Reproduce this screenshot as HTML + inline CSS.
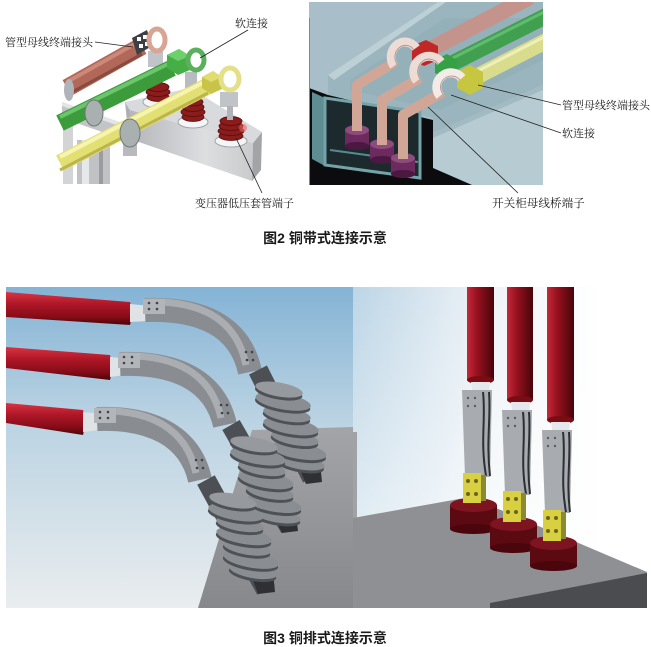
<!DOCTYPE html>
<html><head><meta charset="utf-8"><style>
html,body{margin:0;padding:0;background:#fff;}
svg{display:block;}
.lb{font-family:"Liberation Serif","Noto Serif CJK SC",serif;font-size:11px;fill:#1a1a1a;}
.cap{font-family:"Liberation Sans","Noto Sans CJK SC",sans-serif;font-size:14px;font-weight:bold;fill:#1a1a1a;}
</style></head><body>
<svg width="651" height="647" viewBox="0 0 651 647" xmlns="http://www.w3.org/2000/svg">
<defs>
<linearGradient id="cabH" x1="0" y1="0" x2="0" y2="1"><stop offset="0" stop-color="#d83444"/><stop offset="0.35" stop-color="#b01828"/><stop offset="0.75" stop-color="#860c18"/><stop offset="1" stop-color="#4e0408"/></linearGradient>
<linearGradient id="cabV" x1="0" y1="0" x2="1" y2="0"><stop offset="0" stop-color="#c42a3a"/><stop offset="0.35" stop-color="#9a1220"/><stop offset="1" stop-color="#48040a"/></linearGradient>
<linearGradient id="skyL" x1="0" y1="287" x2="0" y2="608" gradientUnits="userSpaceOnUse"><stop offset="0" stop-color="#84b3d5"/><stop offset="0.4" stop-color="#b9d2e2"/><stop offset="1" stop-color="#eaedef"/></linearGradient>
<linearGradient id="skyR" x1="353" y1="0" x2="600" y2="0" gradientUnits="userSpaceOnUse"><stop offset="0" stop-color="#bcd5e6"/><stop offset="0.55" stop-color="#eef3f7"/><stop offset="1" stop-color="#ffffff"/></linearGradient>
<linearGradient id="skyRv" x1="0" y1="287" x2="0" y2="520" gradientUnits="userSpaceOnUse"><stop offset="0" stop-color="#ffffff" stop-opacity="0"/><stop offset="1" stop-color="#ffffff" stop-opacity="0.55"/></linearGradient>
<linearGradient id="floorL" x1="0" y1="430" x2="0" y2="608" gradientUnits="userSpaceOnUse"><stop offset="0" stop-color="#a2a4a8"/><stop offset="1" stop-color="#86888c"/></linearGradient>
<linearGradient id="bxf" x1="130" y1="0" x2="255" y2="0" gradientUnits="userSpaceOnUse"><stop offset="0" stop-color="#b4b6ba"/><stop offset="0.6" stop-color="#dcdee0"/><stop offset="1" stop-color="#c8cacc"/></linearGradient>
<clipPath id="cTR"><rect x="309" y="2" width="234" height="183"/></clipPath>
<clipPath id="cBL"><rect x="6" y="287" width="347" height="321"/></clipPath>
<clipPath id="cBR"><rect x="353" y="287" width="294" height="321"/></clipPath>
</defs>
<rect width="651" height="647" fill="#fff"/>

<!-- ============ TOP LEFT ============ -->
<g>
 <rect x="63" y="106" width="10" height="78" fill="#d2d4d6"/>
 <polygon points="62,102 128,125 128,141 62,118" fill="#c2c4c8"/>
 <polygon points="62,102 128,125 128,129 62,106" fill="#e2e4e6"/>
 <rect x="77" y="140" width="33" height="44" fill="#c0c2c6"/>
 <rect x="82" y="140" width="7" height="44" fill="#e6e8ea"/>
 <rect x="99" y="140" width="4" height="44" fill="#9a9ca0"/>
 <rect x="123" y="141" width="14" height="15" fill="#b8babe"/>
 <polygon points="125,102 130,110 133,140 128,132" fill="#aeb0b4"/>
 <polygon points="130,110 253,143 252,181 133,140" fill="url(#bxf)"/>
 <polygon points="253,143 262,132 261,170 252,181" fill="#a2a4a8"/>
 <polygon points="125,102 190,88 262,132 253,143 130,110" fill="#d8dadd"/>
 <ellipse cx="158" cy="102" rx="15" ry="6" fill="#f4f5f6" stroke="#a0a4a8" stroke-width="1"/>
 <ellipse cx="193" cy="122" rx="15" ry="6" fill="#f4f5f6" stroke="#a0a4a8" stroke-width="1"/>
 <ellipse cx="231" cy="141" rx="16" ry="6" fill="#f4f5f6" stroke="#a0a4a8" stroke-width="1"/>
 <g fill="#8a1c1c" stroke="#560c0c" stroke-width="0.8">
  <ellipse cx="158" cy="97" rx="11" ry="4.5"/><ellipse cx="158" cy="92" rx="12" ry="4.5"/><ellipse cx="158" cy="87" rx="11" ry="4.5"/>
  <ellipse cx="193" cy="117" rx="11" ry="4.5"/><ellipse cx="193" cy="112" rx="12" ry="4.5"/><ellipse cx="193" cy="107" rx="11" ry="4.5"/><ellipse cx="193" cy="102" rx="10" ry="4"/>
  <ellipse cx="231" cy="136" rx="12" ry="4.5"/><ellipse cx="231" cy="131" rx="13" ry="4.5"/><ellipse cx="231" cy="126" rx="12" ry="4.5"/><ellipse cx="231" cy="121" rx="11" ry="4.5"/>
 </g>
 <circle cx="243" cy="128" r="4" fill="#f06060" opacity="0.6"/>
 <line x1="67" y1="88" x2="142" y2="46" stroke="#b26858" stroke-width="18"/>
 <line x1="67" y1="82" x2="140" y2="41" stroke="#cc8878" stroke-width="4"/>
 <line x1="67" y1="95" x2="142" y2="54" stroke="#8a4a3e" stroke-width="3"/>
 <ellipse cx="69" cy="90" rx="5" ry="11" fill="#b0b4b8"/>
 <polygon points="132,38 147,30 152,46 137,55" fill="#3c4044"/>
 <rect x="137" y="37" width="4" height="4" fill="#fff"/><rect x="143" y="35" width="4" height="4" fill="#fff"/><rect x="139" y="44" width="4" height="4" fill="#fff"/><rect x="145" y="42" width="4" height="4" fill="#fff"/>
 <rect x="148" y="51" width="15" height="16" fill="#c0c4c8"/>
 <ellipse cx="157" cy="40" rx="8" ry="11" fill="none" stroke="#d8a494" stroke-width="5"/>
 <line x1="60" y1="123" x2="172" y2="68" stroke="#3c9c3c" stroke-width="17"/>
 <line x1="60" y1="117" x2="170" y2="63" stroke="#6cc46c" stroke-width="4"/>
 <ellipse cx="94" cy="113" rx="9" ry="13" fill="#a8b0b0" stroke="#707878" stroke-width="1"/>
 <polygon points="167,55 179,49 190,56 190,70 178,75 167,68" fill="#46ae46"/>
 <polygon points="167,55 179,49 190,56 178,61" fill="#6cd06c"/>
 <rect x="185" y="72" width="12" height="16" fill="#b8bcc0"/>
 <ellipse cx="196" cy="60" rx="8" ry="10" fill="none" stroke="#5cb05c" stroke-width="5"/>
 <line x1="60" y1="163" x2="208" y2="86" stroke="#e2e072" stroke-width="17"/>
 <line x1="60" y1="157" x2="206" y2="81" stroke="#f6f4b0" stroke-width="4"/>
 <line x1="60" y1="170" x2="208" y2="93" stroke="#bcb44c" stroke-width="3"/>
 <ellipse cx="130" cy="133" rx="10" ry="14" fill="#a8b0b0" stroke="#707878" stroke-width="1"/>
 <polygon points="202,77 213,71 222,77 222,89 211,94 202,88" fill="#c8c44a"/>
 <polygon points="202,77 213,71 222,77 211,82" fill="#e0dc70"/>
 <rect x="220" y="92" width="18" height="15" fill="#c0c4c8"/>
 <rect x="227" y="106" width="6" height="14" fill="#b0b4b8"/>
 <ellipse cx="230" cy="79" rx="9" ry="11" fill="none" stroke="#e4e08a" stroke-width="5"/>
 <g stroke="#222" stroke-width="0.8">
  <line x1="95" y1="42" x2="133" y2="47"/>
  <line x1="248" y1="30" x2="200" y2="58"/>
  <line x1="236" y1="138" x2="262" y2="193"/>
 </g>
 <text class="lb" x="5" y="46">管型母线终端接头</text>
 <text class="lb" x="235" y="27">软连接</text>
 <text class="lb" x="195" y="207">变压器低压套管端子</text>
</g>

<!-- ============ TOP RIGHT ============ -->
<g clip-path="url(#cTR)">
 <rect x="309" y="2" width="234" height="183" fill="#a8bfc9"/>
 <polygon points="328,75 438,2 543,2 543,85 433,133 433,118 328,95" fill="#9bb5be"/>
 <polygon points="328,75 438,2 446,2 334,80" fill="#bcd0d6"/>
 <polygon points="350,80 445,18 543,18 543,60 440,110 350,90" fill="#94b0b8"/>
 <polygon points="433,133 543,85 543,185 472,185 433,168" fill="#b7cbd3"/>
 <polygon points="433,133 543,85 543,90 433,138" fill="#a2bac2"/>
 <polygon points="309,88 328,95 433,120 433,168 472,185 309,185" fill="#0c0c0e"/>
 <polygon points="312,92 325,98 325,166 312,159" fill="#5e8e92"/>
 <polygon points="325,98 420,112 420,178 325,165" fill="#1c2a2e" stroke="#74a4a8" stroke-width="3"/>
 <line x1="330" y1="150" x2="418" y2="162" stroke="#5a8a8e" stroke-width="2"/>
 <line x1="425" y1="52" x2="530" y2="-3" stroke="#c4948c" stroke-width="16"/>
 <line x1="447" y1="66" x2="552" y2="13" stroke="#40a050" stroke-width="16"/>
 <line x1="447" y1="61" x2="552" y2="8" stroke="#60bc6c" stroke-width="3"/>
 <line x1="470" y1="80" x2="552" y2="38" stroke="#d8dc8c" stroke-width="16"/>
 <line x1="470" y1="75" x2="552" y2="33" stroke="#eef0b8" stroke-width="3"/>
 <polygon points="412,46 426,40 438,46 438,60 424,66 412,60" fill="#c02828"/>
 <polygon points="435,60 447,54 457,60 457,74 445,79 435,73" fill="#36a046"/>
 <polygon points="457,72 470,65 483,72 483,88 470,95 457,88" fill="#c6c640"/>
 <g fill="none" stroke="#d2a696" stroke-width="10" stroke-linejoin="round">
  <path d="M395,62 L357,85 L357,132"/>
  <path d="M420,78 L382,100 L382,146"/>
  <path d="M443,92 L403,115 L403,162"/>
 </g>
 <g fill="none" stroke-width="9">
  <path d="M394,66 A12,13 0 0 1 416,48" stroke="#eddcd6"/>
  <path d="M417,81 A13,13 0 0 1 441,62" stroke="#eddcd6"/>
  <path d="M440,96 A12,12 0 0 1 462,78" stroke="#f2ebe8"/>
 </g>
 <g fill="none" stroke="#b48a80" stroke-width="0.8">
  <path d="M397,64 A10,11 0 0 1 414,50"/><path d="M420,79 A10,11 0 0 1 438,64"/><path d="M443,94 A10,10 0 0 1 460,80"/>
 </g>
 <g>
  <rect x="345" y="130" width="24" height="16" fill="#6c2a5e"/><ellipse cx="357" cy="146" rx="12" ry="4" fill="#4a1840"/><ellipse cx="357" cy="130" rx="12" ry="5" fill="#8c4c7c"/><rect x="352" y="122" width="10" height="9" fill="#d2a696"/>
  <rect x="370" y="144" width="24" height="16" fill="#6c2a5e"/><ellipse cx="382" cy="160" rx="12" ry="4" fill="#4a1840"/><ellipse cx="382" cy="144" rx="12" ry="5" fill="#8c4c7c"/><rect x="377" y="136" width="10" height="9" fill="#d2a696"/>
  <rect x="391" y="158" width="24" height="16" fill="#6c2a5e"/><ellipse cx="403" cy="174" rx="12" ry="4" fill="#4a1840"/><ellipse cx="403" cy="158" rx="12" ry="5" fill="#8c4c7c"/><rect x="398" y="150" width="10" height="9" fill="#d2a696"/>
 </g>
</g>
<line x1="309.5" y1="18" x2="309.5" y2="185" stroke="#7c8a90" stroke-width="1"/>
<g stroke="#222" stroke-width="0.8">
 <line x1="478" y1="85" x2="561" y2="105"/>
 <line x1="451" y1="95" x2="561" y2="133"/>
 <line x1="428" y1="107" x2="518" y2="193"/>
</g>
<text class="lb" x="562" y="109">管型母线终端接头</text>
<text class="lb" x="562" y="137">软连接</text>
<text class="lb" x="492" y="207" style="font-size:11.6px">开关柜母线桥端子</text>

<text class="cap" x="325" y="243" text-anchor="middle">图2 铜带式连接示意</text>

<!-- ============ BOTTOM LEFT ============ -->
<g clip-path="url(#cBL)">
 <rect x="6" y="287" width="347" height="321" fill="url(#skyL)"/>
 <polygon points="198,608 252,430 353,427 353,608" fill="url(#floorL)"/>
 <!-- cable 1 -->
 <polygon points="6,292 130,302 133,313 130,325 6,317" fill="url(#cabH)"/>
 <polygon points="130,304 150,306 166,310 166,320 130,322" fill="#dfe3e6"/>
 <path d="M145,310 C200,308 240,325 250,372" fill="none" stroke="#898d92" stroke-width="24"/>
 <path d="M145,302 C198,300 236,317 246,365" fill="none" stroke="#aaaeb2" stroke-width="7"/>
 <rect x="143" y="299" width="22" height="15" fill="#b2b6ba"/>
 <g fill="#404448"><circle cx="149" cy="303" r="1.3"/><circle cx="157" cy="303" r="1.3"/><circle cx="149" cy="309" r="1.3"/><circle cx="157" cy="309" r="1.3"/><circle cx="246" cy="352" r="1.3"/><circle cx="252" cy="352" r="1.3"/><circle cx="247" cy="360" r="1.3"/><circle cx="253" cy="360" r="1.3"/></g>
 <line x1="258" y1="370" x2="312" y2="478" stroke="#4c5054" stroke-width="20"/>
 <polygon points="297,462 320,462 322,482 306,484" fill="#2e3034"/>
 <g transform="rotate(10 290 426)">
  <ellipse cx="307" cy="463" rx="24" ry="7" fill="#4e5256"/><ellipse cx="307" cy="460" rx="24" ry="7" fill="#8a8e93"/>
  <ellipse cx="303" cy="452" rx="28" ry="8" fill="#4e5256"/><ellipse cx="303" cy="449" rx="28" ry="8" fill="#8a8e93"/>
  <ellipse cx="297" cy="440" rx="24" ry="7" fill="#4e5256"/><ellipse cx="297" cy="437" rx="24" ry="7" fill="#8a8e93"/>
  <ellipse cx="291" cy="429" rx="28" ry="8" fill="#4e5256"/><ellipse cx="291" cy="426" rx="28" ry="8" fill="#8a8e93"/>
  <ellipse cx="285" cy="418" rx="24" ry="7" fill="#4e5256"/><ellipse cx="285" cy="415" rx="24" ry="7" fill="#8a8e93"/>
  <ellipse cx="279" cy="406" rx="28" ry="8" fill="#4e5256"/><ellipse cx="279" cy="403" rx="28" ry="8" fill="#8a8e93"/>
  <ellipse cx="273" cy="395" rx="24" ry="7" fill="#4e5256"/><ellipse cx="273" cy="392" rx="24" ry="7" fill="#969a9f"/>
 </g>
 <!-- cable 2 -->
 <polygon points="6,347 110,355 113,367 110,380 6,368" fill="url(#cabH)"/>
 <polygon points="110,357 130,359 142,362 142,373 110,377" fill="#dfe3e6"/>
 <path d="M120,364 C175,362 215,380 225,425" fill="none" stroke="#898d92" stroke-width="24"/>
 <path d="M120,356 C173,354 211,372 221,418" fill="none" stroke="#aaaeb2" stroke-width="7"/>
 <rect x="118" y="353" width="22" height="15" fill="#b2b6ba"/>
 <g fill="#404448"><circle cx="124" cy="357" r="1.3"/><circle cx="132" cy="357" r="1.3"/><circle cx="124" cy="363" r="1.3"/><circle cx="132" cy="363" r="1.3"/><circle cx="221" cy="405" r="1.3"/><circle cx="227" cy="405" r="1.3"/><circle cx="222" cy="413" r="1.3"/><circle cx="228" cy="413" r="1.3"/></g>
 <line x1="231" y1="425" x2="290" y2="528" stroke="#4c5054" stroke-width="20"/>
 <polygon points="273,515 296,515 298,531 282,533" fill="#2e3034"/>
 <g transform="rotate(10 266 480)">
  <ellipse cx="283" cy="516" rx="24" ry="7" fill="#4e5256"/><ellipse cx="283" cy="513" rx="24" ry="7" fill="#8a8e93"/>
  <ellipse cx="278" cy="505" rx="28" ry="8" fill="#4e5256"/><ellipse cx="278" cy="502" rx="28" ry="8" fill="#8a8e93"/>
  <ellipse cx="272" cy="494" rx="24" ry="7" fill="#4e5256"/><ellipse cx="272" cy="491" rx="24" ry="7" fill="#8a8e93"/>
  <ellipse cx="266" cy="483" rx="28" ry="8" fill="#4e5256"/><ellipse cx="266" cy="480" rx="28" ry="8" fill="#8a8e93"/>
  <ellipse cx="260" cy="472" rx="24" ry="7" fill="#4e5256"/><ellipse cx="260" cy="469" rx="24" ry="7" fill="#8a8e93"/>
  <ellipse cx="254" cy="461" rx="28" ry="8" fill="#4e5256"/><ellipse cx="254" cy="458" rx="28" ry="8" fill="#8a8e93"/>
  <ellipse cx="248" cy="450" rx="24" ry="7" fill="#4e5256"/><ellipse cx="248" cy="447" rx="24" ry="7" fill="#969a9f"/>
 </g>
 <!-- cable 3 -->
 <polygon points="6,403 83,410 86,422 83,435 6,423" fill="url(#cabH)"/>
 <polygon points="83,412 103,414 117,417 117,428 83,432" fill="#dfe3e6"/>
 <path d="M97,419 C150,417 190,435 200,480" fill="none" stroke="#898d92" stroke-width="24"/>
 <path d="M97,411 C148,409 186,427 196,473" fill="none" stroke="#aaaeb2" stroke-width="7"/>
 <rect x="94" y="408" width="22" height="15" fill="#b2b6ba"/>
 <g fill="#404448"><circle cx="100" cy="412" r="1.3"/><circle cx="108" cy="412" r="1.3"/><circle cx="100" cy="418" r="1.3"/><circle cx="108" cy="418" r="1.3"/><circle cx="196" cy="460" r="1.3"/><circle cx="202" cy="460" r="1.3"/><circle cx="197" cy="468" r="1.3"/><circle cx="203" cy="468" r="1.3"/></g>
 <line x1="206" y1="480" x2="266" y2="590" stroke="#4c5054" stroke-width="20"/>
 <polygon points="250,572 273,572 275,592 258,594" fill="#2e3034"/>
 <g transform="rotate(10 244 536)">
  <ellipse cx="259" cy="572" rx="24" ry="7" fill="#4e5256"/><ellipse cx="259" cy="569" rx="24" ry="7" fill="#8a8e93"/>
  <ellipse cx="255" cy="561" rx="28" ry="8" fill="#4e5256"/><ellipse cx="255" cy="558" rx="28" ry="8" fill="#8a8e93"/>
  <ellipse cx="249" cy="550" rx="24" ry="7" fill="#4e5256"/><ellipse cx="249" cy="547" rx="24" ry="7" fill="#8a8e93"/>
  <ellipse cx="244" cy="539" rx="28" ry="8" fill="#4e5256"/><ellipse cx="244" cy="536" rx="28" ry="8" fill="#8a8e93"/>
  <ellipse cx="238" cy="528" rx="24" ry="7" fill="#4e5256"/><ellipse cx="238" cy="525" rx="24" ry="7" fill="#8a8e93"/>
  <ellipse cx="232" cy="517" rx="28" ry="8" fill="#4e5256"/><ellipse cx="232" cy="514" rx="28" ry="8" fill="#8a8e93"/>
  <ellipse cx="227" cy="506" rx="24" ry="7" fill="#4e5256"/><ellipse cx="227" cy="503" rx="24" ry="7" fill="#969a9f"/>
 </g>
</g>

<!-- ============ BOTTOM RIGHT ============ -->
<g clip-path="url(#cBR)">
 <rect x="353" y="287" width="294" height="321" fill="url(#skyR)"/>
 <rect x="353" y="287" width="294" height="321" fill="url(#skyRv)"/>
 <rect x="353" y="432" width="4" height="176" fill="#a0a2a6"/>
 <polygon points="353,518 470,497 647,572 647,608 353,608" fill="#8e9094"/>
 <polygon points="490,603 647,573 647,608 490,608" fill="#4a4c50"/>
 <rect x="467" y="287" width="27" height="93" fill="url(#cabV)"/>
 <ellipse cx="480.5" cy="380" rx="13.5" ry="4" fill="#7a0c14"/>
 <polygon points="471,382 490,382 489,396 473,396" fill="#e4e8ec"/>
 <polygon points="462,390 492,390 490,477 465,477" fill="#a8acb0"/>
 <path d="M483,392 C486,420 480,440 486,476" stroke="#2c3034" stroke-width="2" fill="none"/>
 <path d="M489,392 C491,420 486,440 490,476" stroke="#2c3034" stroke-width="2" fill="none"/>
 <g fill="#5a5e62"><circle cx="468" cy="398" r="1.2"/><circle cx="475" cy="398" r="1.2"/><circle cx="468" cy="406" r="1.2"/><circle cx="475" cy="406" r="1.2"/></g>
 <rect x="450" y="505" width="47" height="24" fill="#5a0a10"/>
 <ellipse cx="473.5" cy="529" rx="23.5" ry="5" fill="#4a060c"/>
 <ellipse cx="473.5" cy="505" rx="23.5" ry="7" fill="#7e1420"/>
 <rect x="463" y="473" width="18" height="30" fill="#d8d040"/>
 <rect x="481" y="475" width="5" height="26" fill="#8a8a30"/>
 <g fill="#6a6420"><circle cx="468" cy="481" r="2"/><circle cx="476" cy="481" r="2"/><circle cx="468" cy="494" r="2"/><circle cx="476" cy="494" r="2"/></g>
 <rect x="507" y="287" width="26" height="113" fill="url(#cabV)"/>
 <ellipse cx="520" cy="400" rx="13" ry="4" fill="#7a0c14"/>
 <polygon points="511,402 530,402 529,416 513,416" fill="#e4e8ec"/>
 <polygon points="502,410 532,410 530,495 505,495" fill="#a8acb0"/>
 <path d="M523,412 C526,440 520,460 526,494" stroke="#2c3034" stroke-width="2" fill="none"/>
 <path d="M529,412 C531,440 526,460 530,494" stroke="#2c3034" stroke-width="2" fill="none"/>
 <g fill="#5a5e62"><circle cx="508" cy="418" r="1.2"/><circle cx="515" cy="418" r="1.2"/><circle cx="508" cy="426" r="1.2"/><circle cx="515" cy="426" r="1.2"/></g>
 <rect x="490" y="524" width="47" height="24" fill="#5a0a10"/>
 <ellipse cx="513.5" cy="548" rx="23.5" ry="5" fill="#4a060c"/>
 <ellipse cx="513.5" cy="524" rx="23.5" ry="7" fill="#7e1420"/>
 <rect x="503" y="491" width="18" height="31" fill="#d8d040"/>
 <rect x="521" y="493" width="5" height="27" fill="#8a8a30"/>
 <g fill="#6a6420"><circle cx="508" cy="499" r="2"/><circle cx="516" cy="499" r="2"/><circle cx="508" cy="512" r="2"/><circle cx="516" cy="512" r="2"/></g>
 <rect x="547" y="287" width="27" height="133" fill="url(#cabV)"/>
 <ellipse cx="560.5" cy="420" rx="13.5" ry="4" fill="#7a0c14"/>
 <polygon points="551,422 570,422 569,436 553,436" fill="#e4e8ec"/>
 <polygon points="542,430 572,430 570,513 545,513" fill="#a8acb0"/>
 <path d="M563,432 C566,460 560,480 566,512" stroke="#2c3034" stroke-width="2" fill="none"/>
 <path d="M569,432 C571,460 566,480 570,512" stroke="#2c3034" stroke-width="2" fill="none"/>
 <g fill="#5a5e62"><circle cx="548" cy="438" r="1.2"/><circle cx="555" cy="438" r="1.2"/><circle cx="548" cy="446" r="1.2"/><circle cx="555" cy="446" r="1.2"/></g>
 <rect x="530" y="543" width="47" height="23" fill="#5a0a10"/>
 <ellipse cx="553.5" cy="566" rx="23.5" ry="5" fill="#4a060c"/>
 <ellipse cx="553.5" cy="543" rx="23.5" ry="7" fill="#7e1420"/>
 <rect x="543" y="510" width="18" height="31" fill="#d8d040"/>
 <rect x="561" y="512" width="5" height="27" fill="#8a8a30"/>
 <g fill="#6a6420"><circle cx="548" cy="518" r="2"/><circle cx="556" cy="518" r="2"/><circle cx="548" cy="531" r="2"/><circle cx="556" cy="531" r="2"/></g>
</g>

<text class="cap" x="325" y="643" text-anchor="middle">图3 铜排式连接示意</text>
</svg>
</body></html>
